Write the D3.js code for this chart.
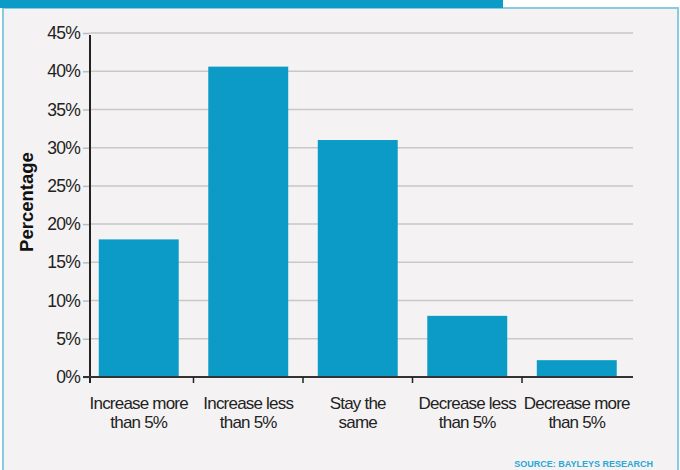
<!DOCTYPE html>
<html>
<head>
<meta charset="utf-8">
<script src="https://cdn.jsdelivr.net/npm/d3@7"></script>
<style>
  body { margin: 0; background: #fff; }
  svg text { font-family: "Liberation Sans", Arial, sans-serif; }
</style>
</head>
<body>
<div class="canvas"></div>
<script>
const categories = [
  ['Increase more', 'than 5%'],
  ['Increase less', 'than 5%'],
  ['Stay the', 'same'],
  ['Decrease less', 'than 5%'],
  ['Decrease more', 'than 5%']
];
const values = [18, 40.6, 31, 8, 2.2];
const yTicks = [0, 5, 10, 15, 20, 25, 30, 35, 40, 45];

const svgWidth = 680;
const svgHeight = 470;

const svg = d3.select('.canvas')
    .append('svg')
    .attr('width', svgWidth)
    .attr('height', svgHeight);

// panel background + frame
svg.append('rect')
    .attr('x', 3).attr('y', 8)
    .attr('width', 675).attr('height', 470)
    .attr('fill', '#f4f2f3')
    .attr('stroke', '#86cbe0')
    .attr('stroke-width', 2);

// top header band
svg.append('rect')
    .attr('x', 0).attr('y', 0)
    .attr('width', 503).attr('height', 8)
    .attr('fill', '#0b9bc6');

const margin = { top: 33, left: 90, right: 633, bottom: 377 };

// bands stop a little short of the axis end
const x = d3.scaleBand()
    .domain(d3.range(categories.length))
    .range([margin.left, 625.5])
    .paddingInner(0.27)
    .paddingOuter(0.08);

const y = d3.scaleLinear()
    .domain([0, 45])
    .range([margin.bottom, margin.top]);

// gridlines
svg.append('g')
    .selectAll('line')
    .data(yTicks.slice(1))
    .enter()
    .append('line')
    .attr('x1', margin.left).attr('x2', margin.right)
    .attr('y1', d => y(d)).attr('y2', d => y(d))
    .attr('stroke', '#c9c7c8')
    .attr('stroke-width', 1.5);

// bars
svg.append('g')
    .selectAll('rect')
    .data(values)
    .enter()
    .append('rect')
    .attr('x', (d, i) => x(i))
    .attr('y', d => y(d))
    .attr('width', x.bandwidth())
    .attr('height', d => y(0) - y(d))
    .attr('fill', '#0b9bc6');

// y axis
const yAxis = d3.axisLeft(y)
    .tickValues(yTicks)
    .tickFormat(d => d + '%')
    .tickSize(7)
    .tickPadding(3);

const yAxisGroup = svg.append('g')
    .attr('transform', `translate(${margin.left}, 0)`)
    .call(yAxis);
yAxisGroup.select('.domain').remove();
yAxisGroup.selectAll('.tick line').attr('stroke', '#bdbbbc').attr('stroke-width', 1.5);
yAxisGroup.selectAll('.tick text')
    .attr('fill', '#222')
    .attr('font-size', 17.5)
    .attr('letter-spacing', '-0.8px');

// axis lines
svg.append('line')
    .attr('x1', margin.left).attr('x2', margin.left)
    .attr('y1', margin.top + 2).attr('y2', margin.bottom + 6)
    .attr('stroke', '#222').attr('stroke-width', 2);
svg.append('line')
    .attr('x1', margin.left - 7).attr('x2', margin.right)
    .attr('y1', margin.bottom).attr('y2', margin.bottom)
    .attr('stroke', '#333').attr('stroke-width', 2);

// category boundary ticks
const step = x.step();
const first = x(0) - x.step() * x.paddingInner() / 2;
svg.append('g')
    .selectAll('line')
    .data(d3.range(1, categories.length))
    .enter()
    .append('line')
    .attr('x1', i => first + i * step)
    .attr('x2', i => first + i * step)
    .attr('y1', margin.bottom).attr('y2', margin.bottom + 6)
    .attr('stroke', '#222').attr('stroke-width', 1.5);

// category labels
const labels = svg.append('g')
    .selectAll('text')
    .data(categories)
    .enter()
    .append('text')
    .attr('x', (d, i) => x(i) + x.bandwidth() / 2)
    .attr('y', 409)
    .attr('text-anchor', 'middle')
    .attr('font-size', 17)
    .attr('letter-spacing', '-0.8px')
    .attr('fill', '#222');
labels.selectAll('tspan')
    .data(d => d)
    .enter()
    .append('tspan')
    .attr('x', function () { return d3.select(this.parentNode).attr('x'); })
    .attr('dy', (d, i) => i === 0 ? 0 : 19)
    .text(d => d);

// y axis title
svg.append('text')
    .attr('transform', 'translate(33, 202) rotate(-90)')
    .attr('text-anchor', 'middle')
    .attr('font-size', 18.5)
    .attr('font-weight', 'bold')
    .attr('fill', '#111')
    .text('Percentage');

// source
svg.append('text')
    .attr('x', 653).attr('y', 467)
    .attr('text-anchor', 'end')
    .attr('font-size', 9)
    .attr('font-weight', 'bold')
    .attr('fill', '#2aa8d6')
    .text('SOURCE: BAYLEYS RESEARCH');
</script>
</body>
</html>
